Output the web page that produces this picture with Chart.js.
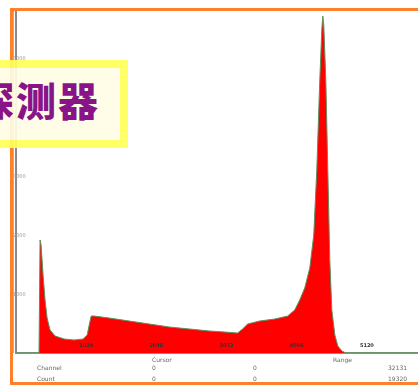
<!DOCTYPE html>
<html>
<head>
<meta charset="utf-8">
<script src="https://cdn.jsdelivr.net/npm/chart.js@4"></script>
<style>
  html, body { margin: 0; padding: 0; background: #fff; }
  #wrap { position: relative; width: 418px; height: 390px; overflow: hidden; }
  #c { position: absolute; left: 0; top: 0; }
  .frame {
    position: absolute; left: 10px; top: 8px; width: 500px; height: 377px;
    box-sizing: border-box; border: 3px solid #ff7f2a; pointer-events: none;
  }
  .axis2 {
    position: absolute; left: 13px; top: 11px; width: 1px; height: 342px; background: #b0b0b0;
  }
  .caption {
    position: absolute; left: -20px; top: 60px; width: 148px; height: 88px;
    box-sizing: border-box; border: 8px solid #ffff5a; background: #fffde6;
    opacity: 0.92; overflow: hidden;
  }
  .caption span {
    position: absolute; left: -14px; top: 7px; white-space: nowrap;
    font-family: "Noto Sans CJK SC", sans-serif; font-weight: 900;
    font-size: 40px; line-height: 48px; letter-spacing: 2px; color: #7f007f;
  }
  .cell {
    position: absolute; font-family: "DejaVu Sans", sans-serif; font-size: 6px;
    color: #666; white-space: nowrap; line-height: 7px;
  }
</style>
</head>
<body>
<div id="wrap">
  <canvas id="c" width="418" height="390"></canvas>
  <div class="axis2"></div>
  <div class="frame"></div>
  <div class="caption"><span>探测器</span></div>
  <div id="table"></div>
</div>
<script>
// ========================
// DADOS
// ========================

const canais = [0, 336, 351, 366, 395, 424, 454, 497, 571, 702, 849, 980, 1039, 1068, 1097, 1141,
  1361, 1653, 1946, 2238, 2531, 2824, 3043, 3233, 3306, 3380, 3555, 3775, 3965, 4067, 4140,
  4213, 4287, 4345, 4389, 4433, 4462, 4477, 4491, 4521, 4550, 4579, 4609, 4653, 4696, 4755,
  4813, 5866];

const contagens = [0, 0, 1922, 1837, 1327, 902, 595, 391, 289, 238, 221, 238, 306, 476, 629, 629,
  595, 544, 493, 442, 408, 374, 357, 340, 408, 493, 544, 578, 629, 731, 902,
  1106, 1446, 2007, 3113, 4644, 5494, 5732, 5579, 4644, 3113, 1582, 731, 306, 119, 34,
  0, 0];

const ticksCanal = [1024, 2048, 3072, 4096, 5120];
const ticksContagem = [1000, 2000, 3000, 4000, 5000];

const linhasTabela = ["Channel", "Count"];
const colunasTabela = ["Cursor", "", "Range"];
const valoresTabela = [
  ["0", "0", "32131"],
  ["0", "0", "19320"],
];

// ========================
// GRÁFICO
// ========================

const pontos = canais.map((x, i) => ({ x: x, y: contagens[i] }));

// rótulos do eixo x desenhados por cima do preenchimento
const rotulosCanal = {
  id: "rotulosCanal",
  afterDatasetsDraw(chart) {
    const ctx = chart.ctx;
    const x = chart.scales.x;
    ctx.save();
    ctx.font = "bold 5px 'DejaVu Sans'";
    ctx.fillStyle = "#333";
    ctx.textAlign = "center";
    ctx.textBaseline = "middle";
    ticksCanal.forEach((v) => {
      ctx.fillText(String(v), x.getPixelForValue(v), x.top - 7);
    });
    ctx.restore();
  },
};

new Chart(document.getElementById("c"), {
  type: "line",
  data: {
    datasets: [
      {
        data: pontos,
        borderColor: "#5f8f5f",
        borderWidth: 1,
        backgroundColor: "#ff0000",
        fill: "origin",
        pointRadius: 0,
        tension: 0,
      },
    ],
  },
  options: {
    responsive: false,
    animation: false,
    layout: { padding: { left: 16, top: 12, right: 0, bottom: 0 } },
    plugins: { legend: { display: false }, tooltip: { enabled: false } },
    scales: {
      x: {
        type: "linear",
        min: 0,
        max: 5866,
        afterFit: (s) => { s.height = 37; },
        grid: { display: false },
        border: { color: "#7d9a7d", width: 2 },
        ticks: { display: false },
      },
      y: {
        min: 0,
        max: 5800,
        afterFit: (s) => { s.width = 0; },
        afterBuildTicks: (s) => { s.ticks = ticksContagem.map((v) => ({ value: v })); },
        grid: { display: false },
        border: { color: "#8a8a8a", width: 2 },
        ticks: {
          mirror: true,
          padding: -3,
          color: "#999",
          font: { size: 5, family: "DejaVu Sans" },
          callback: (v) => String(v),
        },
      },
    },
  },
  plugins: [rotulosCanal],
});

// ========================
// TABELA
// ========================

function renderTabela() {
  const tabela = document.getElementById("table");
  const colX = [152, 253, 388];
  let html = "";
  colunasTabela.forEach((nome, i) => {
    if (nome) html += `<div class="cell" style="left:${i === 2 ? 333 : 152}px;top:356px">${nome}</div>`;
  });
  linhasTabela.forEach((nome, r) => {
    const y = 364 + r * 11;
    html += `<div class="cell" style="left:37px;top:${y}px">${nome}</div>`;
    valoresTabela[r].forEach((v, c) => {
      html += `<div class="cell" style="left:${colX[c]}px;top:${y}px">${v}</div>`;
    });
  });
  tabela.innerHTML = html;
}

renderTabela();
</script>
</body>
</html>
